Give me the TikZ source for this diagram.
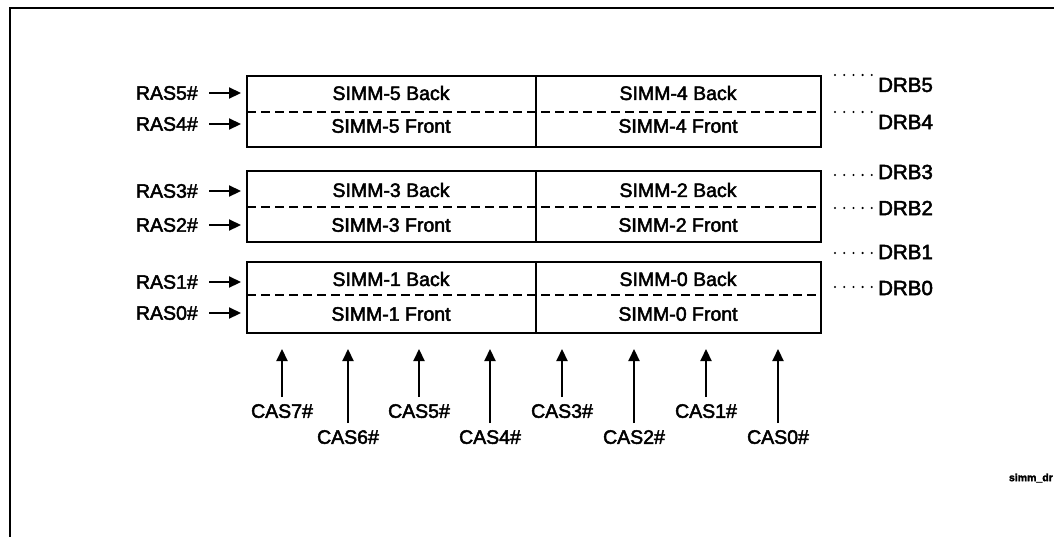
\documentclass[tikz,border=0pt]{standalone}
\usepackage{fontspec}
\setmainfont[FakeBold=2.4]{Liberation Sans}
\usetikzlibrary{arrows.meta}
\begin{document}
\begin{tikzpicture}[x=1pt,y=-1pt,
  lbl/.style={inner sep=0pt,font=\fontsize{19.5}{20}\selectfont},
  drblbl/.style={inner sep=0pt,anchor=west,font=\fontsize{20.5}{21}\selectfont},
  boxline/.style={line width=2.2pt},
  divline/.style={line width=2pt,dash pattern=on 9pt off 5pt},
  sig/.style={line width=2.2pt,-{Triangle[length=12pt,width=11pt]}},
  dotline/.style={line width=2.3pt,line cap=round,dash pattern=on 0pt off 9.2pt}]
\useasboundingbox (0,0) rectangle (1054,536);
\clip (0,0) rectangle (1054,536);
% frame
\draw[line width=2.6pt] (10,537) -- (10,8) -- (1056,8);
% boxes
\foreach \t/\d/\b/\n in {76/112/147/a,171/207/242/b,262/295/333/c}{
  \draw[boxline] (247,\t) rectangle (821,\b);
  \draw[boxline] (536,\t) -- (536,\b);
  \draw[divline] (247,\d) -- (821,\d);
}
% cell texts
\node[lbl] (s5b) at (391,93) {SIMM-5 Back};
\node[lbl] (s4b) at (678,93) {SIMM-4 Back};
\node[lbl] (s5f) at (391,126) {SIMM-5 Front};
\node[lbl] (s4f) at (678,126) {SIMM-4 Front};
\node[lbl] (s3b) at (391,190) {SIMM-3 Back};
\node[lbl] (s2b) at (678,190) {SIMM-2 Back};
\node[lbl] (s3f) at (391,225) {SIMM-3 Front};
\node[lbl] (s2f) at (678,225) {SIMM-2 Front};
\node[lbl] (s1b) at (391,279) {SIMM-1 Back};
\node[lbl] (s0b) at (678,279) {SIMM-0 Back};
\node[lbl] (s1f) at (391,314) {SIMM-1 Front};
\node[lbl] (s0f) at (678,314) {SIMM-0 Front};
% RAS labels and arrows
\foreach \n/\y in {5/93,4/124,3/191,2/225,1/282,0/313}{
  \node[lbl,anchor=east] (ras\n) at (198,\y) {RAS\n\#};
  \coordinate (rt\n) at (241,\y);
  \draw[sig] ([xshift=11pt]ras\n.east) -- (rt\n);
}
% CAS arrows
\foreach \n/\x/\tail in {7/282/397,6/348/423,5/419/397,4/490/423,3/562/397,2/634/423,1/706/397,0/778/423}{
  \coordinate (ct\n) at (\x,349);
  \node[lbl,anchor=north] (cas\n) at (\x,\tail+7) {CAS\n\#};
  \draw[sig] (cas\n.north) ++(0,-7) -- (ct\n);
}
% DRB labels
\foreach \n/\dy/\ty in {5/75/85,4/112/122,3/175/172,2/208/208,1/253/252,0/287/288}{
  \coordinate (dd\n) at (835,\dy);
  \node[drblbl] (drb\n) at (878,\ty) {DRB\n};
  \draw[dotline] (dd\n) -- ++(38,0);
}
\node[inner sep=0pt,anchor=east,font=\bfseries\fontsize{10.5}{11}\selectfont] (tag) at (1053,478) {simm\_dr};
\end{tikzpicture}
\end{document}
